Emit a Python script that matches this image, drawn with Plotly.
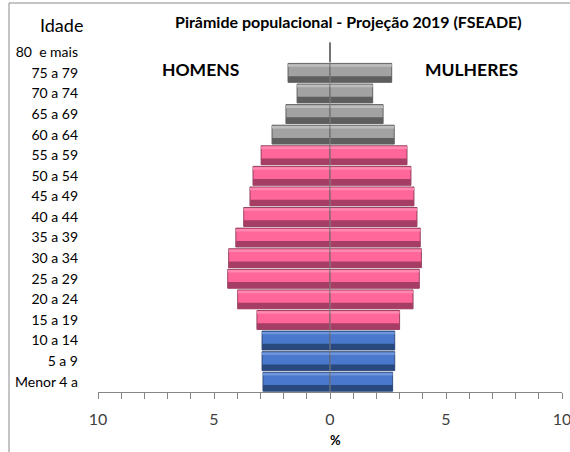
import plotly.graph_objects as go

idades = ["Menor 4 a", "5 a 9", "10 a 14", "15 a 19", "20 a 24", "25 a 29", "30 a 34",
          "35 a 39", "40 a 44", "45 a 49", "50 a 54", "55 a 59", "60 a 64", "65 a 69",
          "70 a 74", "75 a 79", "80  e mais"]
homens = [2.89, 2.93, 2.93, 3.15, 3.98, 4.41, 4.37, 4.06, 3.72, 3.45, 3.32, 2.97,
          2.50, 1.90, 1.42, 1.81, 0.0]
mulheres = [2.70, 2.79, 2.79, 3.00, 3.58, 3.85, 3.94, 3.89, 3.75, 3.62, 3.49, 3.32,
            2.77, 2.29, 1.84, 2.66, 0.0]
grupo = ["jovem"] * 3 + ["adulto"] * 9 + ["idoso"] * 5

base_cor = {"jovem": "#4a78cc", "adulto": "#ff6699", "idoso": "#a2a2a2"}
escura_cor = {"jovem": "#29487e", "adulto": "#a63d64", "idoso": "#5e5e5e"}
clara_cor = {"jovem": "#6f95dc", "adulto": "#ff88b0", "idoso": "#bdbdbd"}
borda_cor = {"jovem": "#1f3864", "adulto": "#7a2a48", "idoso": "#4a4a4a"}

fig = go.Figure()
for sinal, vals in ((-1, homens), (1, mulheres)):
    xs = [sinal * v for v in vals]
    fig.add_trace(go.Bar(
        y=idades, x=xs, orientation="h", width=0.92,
        marker=dict(color=[base_cor[g] for g in grupo],
                    line=dict(color=[borda_cor[g] for g in grupo], width=0.8)),
        hoverinfo="skip", showlegend=False))
    fig.add_trace(go.Bar(
        y=idades, x=xs, orientation="h", width=0.3, offset=-0.46,
        marker=dict(color=[escura_cor[g] for g in grupo], line=dict(width=0)),
        hoverinfo="skip", showlegend=False))
    fig.add_trace(go.Bar(
        y=idades, x=xs, orientation="h", width=0.12, offset=0.30,
        marker=dict(color=[clara_cor[g] for g in grupo], line=dict(width=0)),
        hoverinfo="skip", showlegend=False))

L, R, T, B = 98, 8, 42, 60
W, H = 570, 452
pw, ph = W - L - R, H - T - B

def px(x):
    return (x - L) / pw

def py(y):
    return (H - B - y) / ph

fig.update_layout(
    width=W, height=H, barmode="overlay", bargap=0.08,
    margin=dict(l=L, r=R, t=T, b=B, autoexpand=False),
    paper_bgcolor="white", plot_bgcolor="white",
    font=dict(family="Lato, Carlito, Open Sans, sans-serif", color="#000"),
    xaxis=dict(range=[-10, 10], tickvals=[-10, -5, 0, 5, 10],
               ticktext=["10", "5", "0", "5", "10"],
               tickfont=dict(size=16, color="#404040"),
               ticklabeloverflow="allow", ticklabelstandoff=7, automargin=False,
               ticks="outside", ticklen=6, tickcolor="#868686",
               minor=dict(dtick=1, ticks="outside", ticklen=6, tickcolor="#868686"),
               showline=True, linecolor="#868686", linewidth=1,
               showgrid=False, zeroline=False, fixedrange=True),
    yaxis=dict(categoryorder="array", categoryarray=idades,
               tickfont=dict(size=14, color="#000"), automargin=False,
               ticklabelstandoff=19, showgrid=False, zeroline=False,
               showline=False, ticks="", fixedrange=True),
)

fig.add_shape(type="line", xref="x", yref="paper", x0=0, x1=0, y0=0, y1=1,
              line=dict(color="#868686", width=1), layer="above")
fig.add_shape(type="line", xref="paper", yref="paper", x0=px(9), x1=px(572),
              y0=py(3), y1=py(3), line=dict(color="#8a8a8a", width=1))
fig.add_shape(type="line", xref="paper", yref="paper", x0=px(9), x1=px(9),
              y0=py(3), y1=py(454), line=dict(color="#8a8a8a", width=1))

anns = [
    ("Idade", 61, 25, 18, "normal"),
    ("Pirâmide populacional - Projeção 2019 (FSEADE)", 348, 22, 16, "bold"),
    ("HOMENS", 200, 70, 17.5, "bold"),
    ("MULHERES", 471, 70, 17.5, "bold"),
    ("%", 335, 440, 13, "bold"),
]
for txt, x, y, s, w in anns:
    fig.add_annotation(text=txt, xref="paper", yref="paper", x=px(x), y=py(y),
                       xanchor="center", yanchor="middle", showarrow=False,
                       font=dict(size=s, weight=w, color="#000"))

fig.write_html("out.html", config={"displayModeBar": False},
               post_script="document.body.style.margin='0';document.body.style.overflow='hidden';")
